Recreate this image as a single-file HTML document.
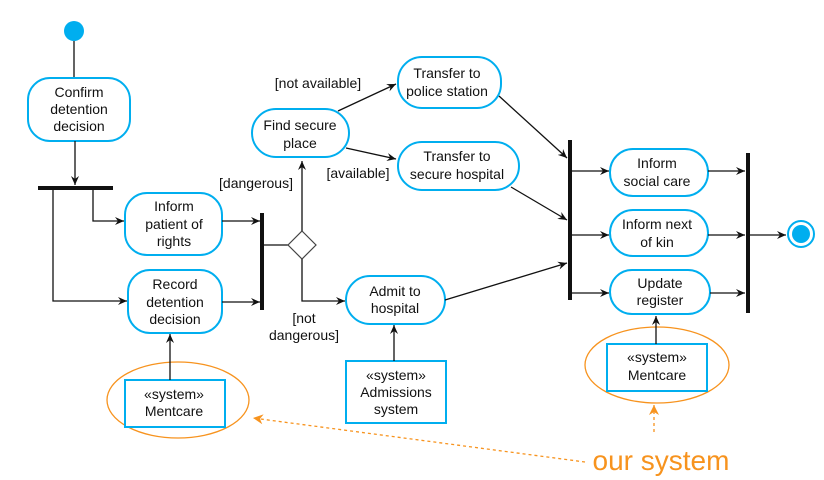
<!DOCTYPE html>
<html><head><meta charset="utf-8"><style>
body{margin:0;background:#fff;}
svg{display:block;font-family:"Liberation Sans",sans-serif;}
.n{fill:#fff;stroke:#00aeef;stroke-width:2;}
.t{font-size:14px;fill:#111;text-anchor:middle;}
.l{stroke:#111;stroke-width:1.3;fill:none;}
</style></head><body>
<svg width="824" height="480" viewBox="0 0 824 480">
<defs>
<marker id="a" markerWidth="10" markerHeight="10" refX="9" refY="5" orient="auto" markerUnits="userSpaceOnUse"><path d="M0,1 L9,5 L0,9 L3,5z" fill="#111"/></marker>
<marker id="o" markerWidth="12" markerHeight="12" refX="10" refY="6" orient="auto" markerUnits="userSpaceOnUse"><path d="M0,1 L10,6 L0,11 L3,6z" fill="#f7931e"/></marker>
</defs>
<!-- start -->
<circle cx="74" cy="31" r="10" fill="#00aeef"/>
<line class="l" x1="74" y1="41" x2="74" y2="78"/>
<rect class="n" x="28" y="78" width="102" height="63" rx="22"/>
<text class="t" x="79" y="97">Confirm</text><text class="t" x="79" y="114">detention</text><text class="t" x="79" y="131">decision</text>
<line class="l" x1="75" y1="141" x2="75" y2="185" marker-end="url(#a)"/>
<rect x="38" y="186" width="75" height="4" fill="#111"/>
<polyline class="l" points="53,190 53,301 127,301" marker-end="url(#a)"/>
<polyline class="l" points="93,190 93,221 124,221" marker-end="url(#a)"/>
<rect class="n" x="125" y="193" width="97" height="62" rx="22"/>
<text class="t" x="174" y="211">Inform</text><text class="t" x="174" y="229">patient of</text><text class="t" x="174" y="246">rights</text>
<rect class="n" x="128" y="270" width="94" height="63" rx="22"/>
<text class="t" x="175" y="289">Record</text><text class="t" x="175" y="307">detention</text><text class="t" x="175" y="324">decision</text>
<line class="l" x1="222" y1="221" x2="260" y2="221" marker-end="url(#a)"/>
<line class="l" x1="222" y1="302" x2="260" y2="302" marker-end="url(#a)"/>
<rect x="260" y="213" width="4" height="97" fill="#111"/>
<line class="l" x1="264" y1="245" x2="288" y2="245"/>
<polygon points="302,231 316,245 302,259 288,245" fill="#fff" stroke="#444" stroke-width="1.2"/>
<line class="l" x1="302" y1="231" x2="302" y2="161" marker-end="url(#a)"/>
<text class="t" x="256" y="188">[dangerous]</text>
<polyline class="l" points="302,259 302,301 345,301" marker-end="url(#a)"/>
<text class="t" x="304" y="323">[not</text><text class="t" x="304" y="340">dangerous]</text>
<rect class="n" x="252" y="109" width="97" height="48" rx="24"/>
<text class="t" x="300" y="130">Find secure</text><text class="t" x="300" y="148">place</text>
<line class="l" x1="338" y1="111" x2="396" y2="84" marker-end="url(#a)"/>
<text class="t" x="318" y="88">[not available]</text>
<line class="l" x1="346" y1="148" x2="396" y2="159" marker-end="url(#a)"/>
<text class="t" x="358" y="178">[available]</text>
<rect class="n" x="398" y="57" width="103" height="51" rx="24"/>
<text class="t" x="447" y="78">Transfer to</text><text class="t" x="447" y="96">police station</text>
<rect class="n" x="398" y="142" width="121" height="48" rx="24"/>
<text class="t" x="457" y="161">Transfer to</text><text class="t" x="457" y="179">secure hospital</text>
<rect class="n" x="346" y="276" width="99" height="48" rx="24"/>
<text class="t" x="395" y="296">Admit to</text><text class="t" x="395" y="313">hospital</text>
<rect x="346" y="361" width="100" height="62" fill="#fff" stroke="#00aeef" stroke-width="2"/>
<text class="t" x="396" y="380">«system»</text><text class="t" x="396" y="397">Admissions</text><text class="t" x="396" y="414">system</text>
<line class="l" x1="394" y1="361" x2="394" y2="325" marker-end="url(#a)"/>
<!-- left mentcare -->
<ellipse cx="178" cy="400" rx="71" ry="38" fill="none" stroke="#f7931e" stroke-width="1.3"/>
<rect x="125" y="380" width="100" height="47" fill="#fff" stroke="#00aeef" stroke-width="2"/>
<text class="t" x="174" y="399">«system»</text><text class="t" x="174" y="416">Mentcare</text>
<line class="l" x1="170" y1="380" x2="170" y2="334" marker-end="url(#a)"/>
<!-- big join -->
<rect x="568" y="140" width="4" height="160" fill="#111"/>
<line class="l" x1="499" y1="96" x2="567" y2="158" marker-end="url(#a)"/>
<line class="l" x1="511" y1="187" x2="567" y2="220" marker-end="url(#a)"/>
<line class="l" x1="445" y1="300" x2="567" y2="263" marker-end="url(#a)"/>
<line class="l" x1="572" y1="171" x2="609" y2="171" marker-end="url(#a)"/>
<line class="l" x1="572" y1="235" x2="609" y2="235" marker-end="url(#a)"/>
<line class="l" x1="572" y1="293" x2="609" y2="293" marker-end="url(#a)"/>
<rect class="n" x="610" y="149" width="98" height="47" rx="23"/>
<text class="t" x="657" y="168">Inform</text><text class="t" x="657" y="186">social care</text>
<rect class="n" x="610" y="210" width="98" height="46" rx="23"/>
<text class="t" x="657" y="229">Inform next</text><text class="t" x="657" y="247">of kin</text>
<rect class="n" x="610" y="270" width="100" height="44" rx="22"/>
<text class="t" x="660" y="288">Update</text><text class="t" x="660" y="305">register</text>
<rect x="746" y="153" width="4" height="160" fill="#111"/>
<line class="l" x1="708" y1="171" x2="745" y2="171" marker-end="url(#a)"/>
<line class="l" x1="708" y1="235" x2="745" y2="235" marker-end="url(#a)"/>
<line class="l" x1="710" y1="293" x2="745" y2="293" marker-end="url(#a)"/>
<line class="l" x1="750" y1="235" x2="786" y2="235" marker-end="url(#a)"/>
<circle cx="801" cy="234" r="13" fill="#fff" stroke="#00aeef" stroke-width="2"/>
<circle cx="801" cy="234" r="9" fill="#00aeef"/>
<!-- right mentcare -->
<ellipse cx="657" cy="365" rx="72" ry="38" fill="none" stroke="#f7931e" stroke-width="1.3"/>
<rect x="607" y="344" width="100" height="47" fill="#fff" stroke="#00aeef" stroke-width="2"/>
<text class="t" x="657" y="362">«system»</text><text class="t" x="657" y="380">Mentcare</text>
<line class="l" x1="656" y1="344" x2="656" y2="316" marker-end="url(#a)"/>
<!-- our system -->
<line x1="585" y1="462" x2="253" y2="418" stroke="#f7931e" stroke-width="1.3" stroke-dasharray="3,3" marker-end="url(#o)"/>
<line x1="654" y1="432" x2="654" y2="405" stroke="#f7931e" stroke-width="1.3" stroke-dasharray="3,3" marker-end="url(#o)"/>
<text x="661" y="470" font-size="28" fill="#f7931e" text-anchor="middle">our system</text>
</svg>
</body></html>
